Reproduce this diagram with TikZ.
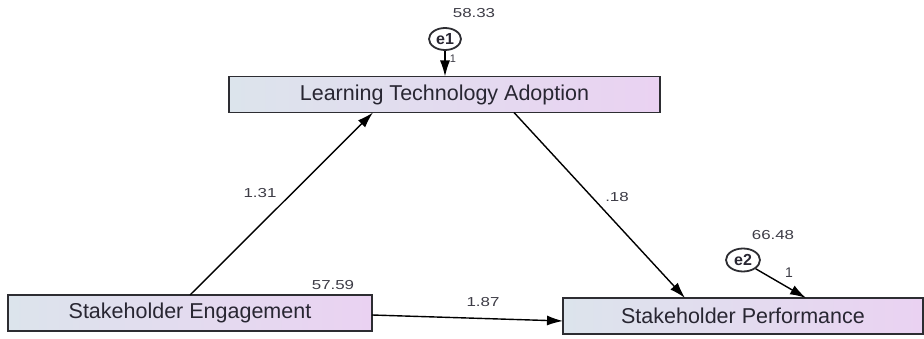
\documentclass[tikz,border=0pt]{standalone}
\usepackage{fontspec}
\setmainfont{Liberation Sans}
\usetikzlibrary{arrows.meta,shapes.geometric}
\definecolor{boxleft}{RGB}{220,228,236}
\definecolor{boxright}{RGB}{234,210,242}
\definecolor{boxline}{RGB}{45,45,50}
\definecolor{txt}{RGB}{40,38,50}
\newcommand{\widenum}[1]{\scalebox{1.3}[1]{#1}}
\begin{document}
\begin{tikzpicture}[x=1pt,y=-1pt,
  varbox/.style={draw=boxline,line width=1.8pt,left color=boxleft,right color=boxright,
    minimum height=36pt,inner sep=0pt,text=txt,font=\fontsize{21.5}{24}\selectfont},
  errnode/.style={ellipse,draw=boxline,line width=1.8pt,fill=white,inner sep=0pt,
    font=\fontsize{16}{18}\selectfont\bfseries,text=txt},
  num/.style={font=\fontsize{13}{15}\selectfont,text=txt!90},
  path/.style={draw=black,line width=1.4pt,-{Latex[length=16pt,width=10pt]}}]
\useasboundingbox (0,0) rectangle (924,339);
\fill[white] (0,0) rectangle (924,339);
% boxes
\node[varbox,minimum width=431pt] (lta) at (444.5,94.5) {Learning Technology Adoption};
\node[varbox,minimum width=364pt] (se) at (190,313) {Stakeholder Engagement};
\node[varbox,minimum width=360pt] (sp) at (743,316) {Stakeholder Performance};
% error terms
\node[errnode,minimum width=32pt,minimum height=22pt] (e1) at (445,39) {e1};
\node[errnode,minimum width=34pt,minimum height=23pt] (e2) at (743,260) {e2};
% connector end points
\coordinate (seTop) at (190,295);
\coordinate (ltaBotL) at (373,112.5);
\coordinate (ltaBotR) at (514,112.5);
\coordinate (spTopL) at (685,298);
\coordinate (spTopR) at (806,298);
\coordinate (seRight) at (372,315);
\coordinate (spLeft) at (563,321);
\coordinate (ltaTop) at (445,76.5);
% connectors
\draw[path] (seTop) -- (ltaBotL);
\draw[path] (ltaBotR) -- (spTopL);
\draw[path] (seRight) -- (spLeft);
\draw[path] (e1.south) -- (ltaTop);
\draw[path] (e2.south east) -- (spTopR);
% labels
\node[num] (l1) at (474,13) {\widenum{58.33}};
\node[num,font=\fontsize{11}{13}\selectfont] (l2) at (453,59) {1};
\node[num] (l3) at (260,193) {\widenum{1.31}};
\node[num] (l4) at (617,197) {\widenum{.18}};
\node[num] (l5) at (483,302) {\widenum{1.87}};
\node[num] (l6) at (333,285) {\widenum{57.59}};
\node[num] (l7) at (773,235) {\widenum{66.48}};
\node[num,font=\fontsize{14}{16}\selectfont] (l8) at (789,273) {1};
\end{tikzpicture}
\end{document}
